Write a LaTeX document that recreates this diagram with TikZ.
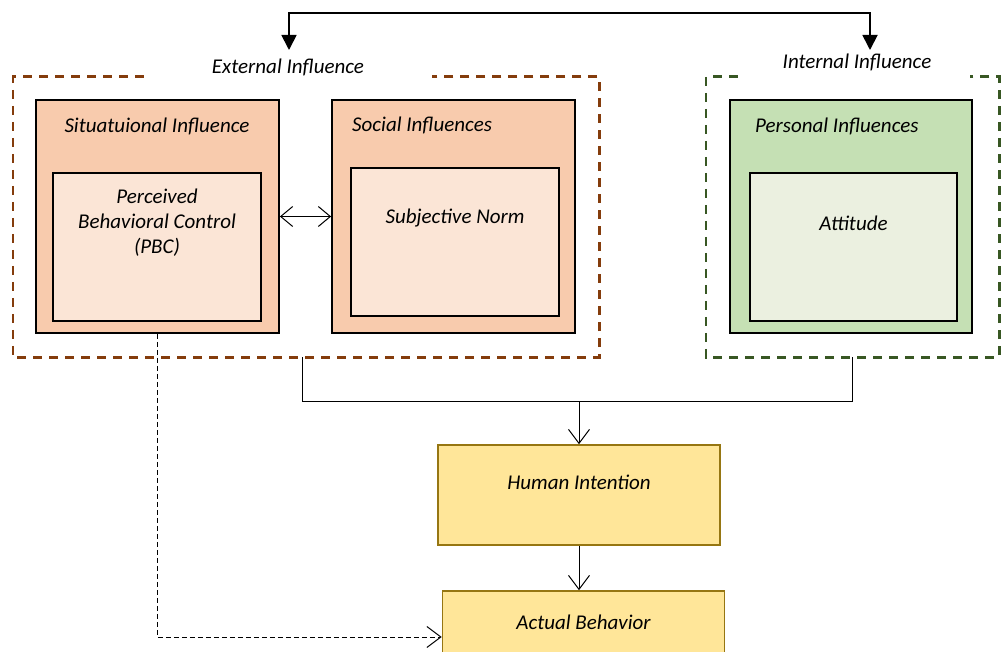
\documentclass[tikz,border=0pt]{standalone}
\usepackage{fontspec}
\setmainfont{Carlito}
\usetikzlibrary{positioning, arrows.meta}

\definecolor{peach}{HTML}{F8CBAD}
\definecolor{peachlt}{HTML}{FBE5D6}
\definecolor{leaf}{HTML}{C5E0B4}
\definecolor{leaflt}{HTML}{EBF0E0}
\definecolor{sand}{HTML}{FFE699}
\definecolor{sanddraw}{HTML}{967612}
\definecolor{extcol}{HTML}{843C0C}
\definecolor{intcol}{HTML}{385723}

\begin{document}
\begin{tikzpicture}[
  x=1pt, y=-1pt,
  every node/.style={font=\fontsize{21}{25}\selectfont\itshape, inner sep=0pt},
  group/.style={minimum width=#1, minimum height=280pt},
  outer/.style={draw, line width=1.8pt, minimum width=243pt, minimum height=233pt},
  inbox/.style={draw, line width=1.2pt, minimum width=208pt, minimum height=148pt},
  flow/.style={draw=sanddraw, line width=1.6pt, fill=sand, minimum width=282pt},
  line/.style={line width=1pt},
  vhead/.style={-{Straight Barb[length=14pt, width=21pt, line width=1pt]}},
  extline/.style={draw=extcol, line width=2.6pt, dash pattern=on 9pt off 7pt},
  intline/.style={draw=intcol, line width=2.6pt, dash pattern=on 9pt off 7pt}
]
\useasboundingbox (0,0) rectangle (1001,652);

% groups
\node[group=586pt] (ext) at (306,217) {};
\node[group=293pt] (int) at (852.5,217) {};
\node (extlbl) at (288,67) {External Influence};
\node (intlbl) at (857,62) {Internal Influence};

\draw[extline] ([xshift=131pt]ext.north west) -- (ext.north west) -- (ext.south west)
  -- (ext.south east) -- (ext.north east) -- ([xshift=-167pt]ext.north east);
\draw[intline] ([xshift=32pt]int.north west) -- (int.north west) -- (int.south west)
  -- (int.south east) -- (int.north east) -- ([xshift=-29pt]int.north east);

% influences
\node[outer, fill=peach] (sit) at (157.5,216.5) {};
\node[inbox, fill=peachlt] (pbcbox) at (157,247) {};
\node (sitT) at (157,126) {Situatuional Influence};
\node[align=center] (pbc) at (157,223) {Perceived\\Behavioral Control\\(PBC)};

\node[outer, fill=peach] (soc) at (453.5,216.5) {};
\node[inbox, fill=peachlt] (normbox) at (455,242) {};
\node[anchor=west] (socT) at (352,125) {Social Influences};
\node (norm) at (455,218) {Subjective Norm};

\node[outer, fill=leaf, minimum width=242pt] (pers) at (851,216.5) {};
\node[inbox, fill=leaflt, minimum width=207pt] (attbox) at (853.5,247) {};
\node[anchor=west] (persT) at (755,126) {Personal Influences};
\node (att) at (853.5,223) {Attitude};

% outcome
\node[flow, minimum height=100pt, text height=14pt, text depth=25pt] (hi) at (579,495) {Human Intention};
\node[flow, minimum height=92pt, text height=14pt, text depth=29pt] (ab) at (583.5,637) {Actual Behavior};

% connectors
\coordinate (extin) at (289,50);
\coordinate (intin) at (870,50);
\draw[line width=1.8pt, {Triangle[length=15pt, width=15pt]}-{Triangle[length=15pt, width=15pt]}]
  (extin) -- ++(0,-37) -| (intin);

\draw[line, {Straight Barb[length=12pt, width=20pt, line width=1pt]}-{Straight Barb[length=12pt, width=20pt, line width=1pt]}]
  (sit.east) -- (soc.west);

\coordinate[above=43pt of hi.north] (join);
\draw[line] ([xshift=-4pt]ext.south) |- (join) -| (int.south);
\draw[line, vhead] (join) -- (hi.north);
\draw[line, vhead] (hi.south) -- (hi.south |- ab.north);
\draw[line, dash pattern=on 5pt off 3pt, vhead] (pbcbox.south |- sit.south) |- (ab.west);
\end{tikzpicture}
\end{document}
